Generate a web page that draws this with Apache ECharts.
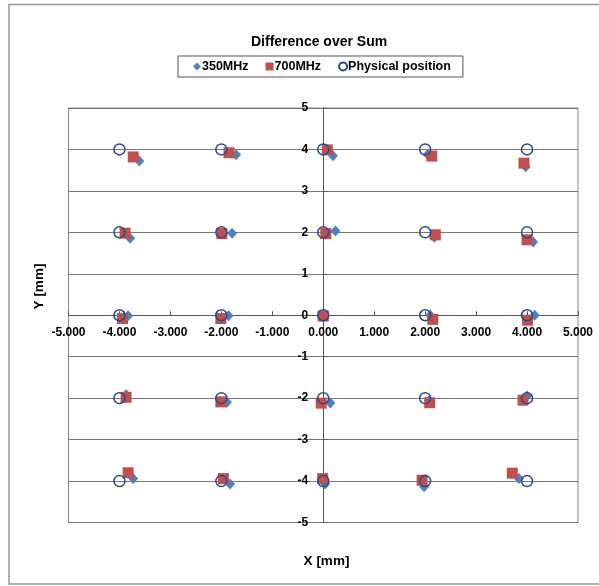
<!DOCTYPE html>
<html>
<head>
<meta charset="utf-8">
<script src="https://cdn.jsdelivr.net/npm/echarts@6/dist/echarts.min.js"></script>
<style>
html,body{margin:0;padding:0;background:#fff;}
#chart{width:599px;height:586px;}
</style>
</head>
<body>
<div id="chart"></div>
<script>
const titleText = "Difference over Sum";
const seriesNames = ["350MHz", "700MHz", "Physical position"];
const xTicks = [-5, -4, -3, -2, -1, 0, 1, 2, 3, 4, 5];

const x350 = [-3.61, -1.71, 0.19, 2.05, 3.97,  -3.79, -1.79, 0.24, 2.18, 4.12,  -3.83, -1.86, 0.02, 2.10, 4.15,  -3.87, -1.89, 0.14, 2.08, 4.00,  -3.73, -1.83, 0.04, 1.98, 3.84];
const y350 = [3.72, 3.87, 3.85, 3.88, 3.58,  1.86, 1.98, 2.03, 1.88, 1.77,  -0.01, -0.01, 0.00, 0.00, 0.00,  -1.92, -2.10, -2.12, -2.06, -1.95,  -3.94, -4.07, -4.07, -4.14, -3.94];

const x700 = [-3.73, -1.85, 0.08, 2.13, 3.94,  -3.89, -1.99, 0.05, 2.20, 4.00,  -3.94, -2.01, 0.00, 2.15, 4.01,  -3.87, -2.01, -0.04, 2.09, 3.92,  -3.83, -1.96, -0.01, 1.94, 3.71];
const y700 = [3.82, 3.92, 3.99, 3.84, 3.67,  1.98, 1.97, 1.97, 1.94, 1.82,  -0.08, -0.08, -0.02, -0.10, -0.12,  -1.98, -2.09, -2.12, -2.11, -2.05,  -3.80, -3.94, -3.94, -3.98, -3.81];

const xPhys = [-4, -2, 0, 2, 4,  -4, -2, 0, 2, 4,  -4, -2, 0, 2, 4,  -4, -2, 0, 2, 4,  -4, -2, 0, 2, 4];
const yPhys = [4, 4, 4, 4, 4,  2, 2, 2, 2, 2,  0, 0, 0, 0, 0,  -2, -2, -2, -2, -2,  -4, -4, -4, -4, -4];

const pairs = (xs, ys) => xs.map((x, i) => [x, ys[i]]);

const chart = echarts.init(document.getElementById('chart'), null, {renderer: 'canvas'});
const font = 'Liberation Sans, Arial, sans-serif';

const gridLeft = 68.5, gridRight = 21, gridTop = 108, gridBottom = 63.5;
const W = 599, H = 586;
const plotW = W - gridLeft - gridRight, plotH = H - gridTop - gridBottom;
// axes cross at the origin: shift each axis from the grid edge to the zero line
const xAxisOffset = -plotH * (0 - (-5)) / 10;
const yAxisOffset = -plotW * (0 - (-5)) / 10;

chart.setOption({
  animation: false,
  backgroundColor: '#fff',
  title: {
    text: titleText,
    left: 251,
    top: 35,
    padding: 0,
    textStyle: {fontFamily: font, fontSize: 14, fontWeight: 'bold', color: '#000'}
  },
  legend: {
    left: 178,
    top: 56,
    orient: 'horizontal',
    borderColor: '#555',
    borderWidth: 1,
    padding: [4, 12, 4, 15],
    itemGap: 17,
    itemWidth: 8,
    itemHeight: 8,
    textStyle: {fontFamily: font, fontSize: 12.5, fontWeight: 'bold', color: '#000', padding: [0, 0, 0, -4]},
    data: [
      {name: seriesNames[0], icon: 'diamond'},
      {name: seriesNames[1], icon: 'rect'},
      {name: seriesNames[2], icon: 'circle'}
    ]
  },
  grid: {
    left: gridLeft,
    right: gridRight,
    top: gridTop,
    bottom: gridBottom,
    show: true,
    borderColor: '#888',
    borderWidth: 1,
    containLabel: false
  },
  xAxis: {
    type: 'value',
    position: 'bottom',
    offset: xAxisOffset,
    min: -5,
    max: 5,
    interval: 1,
    axisLine: {onZero: false, lineStyle: {color: '#555', width: 1}},
    axisTick: {show: true, inside: true, length: 4, lineStyle: {color: '#555'}},
    axisLabel: {
      fontFamily: font, fontSize: 12, fontWeight: 'bold', color: '#000', margin: 11,
      formatter: v => v.toFixed(3)
    },
    splitLine: {show: false}
  },
  yAxis: {
    type: 'value',
    position: 'left',
    offset: yAxisOffset,
    min: -5,
    max: 5,
    interval: 1,
    axisLine: {onZero: false, lineStyle: {color: '#555', width: 1}},
    axisTick: {show: true, inside: true, length: 4, lineStyle: {color: '#555'}},
    axisLabel: {fontFamily: font, fontSize: 12, fontWeight: 'bold', color: '#000', margin: 15},
    splitLine: {show: true, lineStyle: {color: '#777', width: 1}}
  },
  graphic: [
    {type: 'rect', shape: {x: 9, y: 4.5, width: 600, height: 579.5}, style: {fill: 'none', stroke: '#999', lineWidth: 1.5}, silent: true, z: -10},
    {type: 'text', x: 326.5, y: 561, style: {text: 'X [mm]', font: 'bold 13.5px ' + font, fill: '#000', align: 'center', verticalAlign: 'middle'}},
    {type: 'text', x: 39, y: 286.5, rotation: Math.PI / 2, style: {text: 'Y [mm]', font: 'bold 13.5px ' + font, fill: '#000', align: 'center', verticalAlign: 'middle'}}
  ],
  series: [
    {
      name: seriesNames[0], type: 'scatter', symbol: 'diamond', symbolSize: [10, 11],
      itemStyle: {color: '#4F81BD', opacity: 1},
      data: pairs(x350, y350), z: 2
    },
    {
      name: seriesNames[1], type: 'scatter', symbol: 'rect', symbolSize: 11,
      itemStyle: {color: '#C0504D', opacity: 1},
      data: pairs(x700, y700), z: 3
    },
    {
      name: seriesNames[2], type: 'scatter', symbol: 'circle', symbolSize: 11,
      itemStyle: {color: 'rgba(0,0,0,0)', borderColor: '#2A4A8E', borderWidth: 1.5, opacity: 1},
      data: pairs(xPhys, yPhys), z: 4
    }
  ]
});
</script>
</body>
</html>
